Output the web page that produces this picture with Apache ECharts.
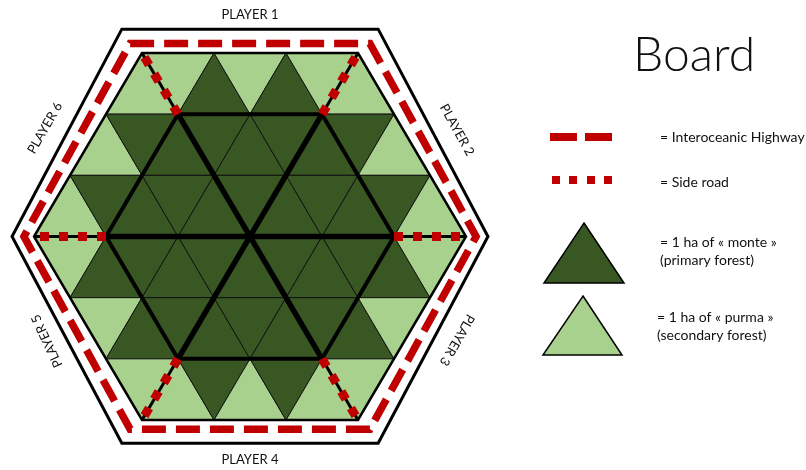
<!DOCTYPE html>
<html><head><meta charset="utf-8">
<script src="https://cdn.jsdelivr.net/npm/echarts@6/dist/echarts.min.js"></script>
<style>html,body{margin:0;padding:0;background:#fff}#c{width:806px;height:470px}</style>
</head><body><div id="c"></div>
<script>
// ---------- data ----------
// Forest cover of each triangle, row by row (top to bottom), left to right. P = purma, M = monte
const rowCover = [
  ['P','P','M','P','M','P','P'],
  ['P','M','M','M','M','M','M','M','P'],
  ['P','M','M','M','M','M','M','M','M','M','P'],
  ['P','M','M','M','M','M','M','M','M','M','P'],
  ['P','M','M','M','M','M','M','M','P'],
  ['P','P','M','P','M','P','P']
];
// Lattice nodes: [half-sides from the centre column, row line counted from the top]
const boardCorners = [[-3,0],[3,0],[6,3],[3,6],[-3,6],[-6,3]];
const starEdges = [[[-2,1],[-4,3],[-2,5]], [[2,1],[4,3],[2,5]], [[-2,1],[2,1]], [[-2,5],[2,5]]];
const starDiagonals = [[[-4,3],[4,3]], [[-2,1],[2,5]], [[2,1],[-2,5]]];
const sideRoads = [[[-2,1],[-3,0]], [[2,1],[3,0]], [[-4,3],[-6,3]], [[4,3],[6,3]], [[-2,5],[-3,6]], [[2,5],[3,6]]];
const highwayRing = [[-3.33,-0.155],[3.33,-0.155],[6.28,3],[3.33,6.15],[-3.33,6.15],[-6.28,3]];
const frameRing = [[-3.56,-0.39],[3.56,-0.39],[6.61,3],[3.56,6.38],[-3.56,6.38],[-6.61,3]];
const playerNames = ['PLAYER 1','PLAYER 2','PLAYER 3','PLAYER 4','PLAYER 5','PLAYER 6'];
const titleText = 'Board';
const legendTexts = ['= Interoceanic Highway', '= Side road',
  '= 1 ha of « monte »\n(primary forest)', '= 1 ha of « purma »\n(secondary forest)'];

// ---------- styles ----------
const DARK = '#385723', LIGHT = '#A9D18E', RED = '#C00000', INK = '#111';
const FONT = 'Lato, "Open Sans", sans-serif';

function triNodes(r, t) {
  const m = Math.floor(t / 2);
  if (r < 3) {
    const a = -(3 + r) + 2 * m;
    return t % 2 === 0 ? [[a, r], [a - 1, r + 1], [a + 1, r + 1]] : [[a, r], [a + 2, r], [a + 1, r + 1]];
  }
  const a = -(9 - r) + 2 * m;
  return t % 2 === 0 ? [[a, r], [a + 2, r], [a + 1, r + 1]] : [[a + 2, r], [a + 1, r + 1], [a + 3, r + 1]];
}
const cells = [];
rowCover.forEach((row, r) => row.forEach((c, t) => cells.push([r, t, c === 'M' ? 1 : 0])));

const chart = echarts.init(document.getElementById('c'), null, {renderer: 'canvas'});
const rowH = 367 / 6;
const option = {
  animation: false,
  grid: {left: 250 - 6.9 * 36, top: 53 - 0.6 * rowH, width: 13.8 * 36, height: 7.2 * rowH},
  xAxis: {type: 'value', min: -6.9, max: 6.9, show: false},
  yAxis: {type: 'value', min: -0.6, max: 6.6, inverse: true, show: false},
  series: [
    {
      type: 'custom', silent: true, z: 2,
      data: cells,
      encode: {x: -1, y: -1},
      renderItem: (params, api) => {
        const pts = triNodes(api.value(0), api.value(1)).map(p => api.coord(p));
        return {type: 'polygon', shape: {points: pts},
          style: {fill: api.value(2) ? DARK : LIGHT, stroke: INK, lineWidth: 1}};
      }
    },
    {
      type: 'custom', silent: true, z: 3,
      data: [[0, 0]],
      encode: {x: -1, y: -1},
      renderItem: (params, api) => {
        const px = arr => arr.map(p => api.coord(p));
        const ch = [];
        ch.push({type: 'polygon', shape: {points: px(boardCorners)}, style: {fill: 'none', stroke: '#000', lineWidth: 2.5}});
        starEdges.forEach(s => ch.push({type: 'polyline', shape: {points: px(s)},
          style: {fill: 'none', stroke: '#000', lineWidth: 4, lineJoin: 'round', lineCap: 'round'}}));
        starDiagonals.forEach(s => ch.push({type: 'polyline', shape: {points: px(s)},
          style: {fill: 'none', stroke: '#000', lineWidth: 5.5, lineCap: 'round'}}));
        sideRoads.forEach(s => {
          ch.push({type: 'polyline', shape: {points: px(s)}, style: {fill: 'none', stroke: '#000', lineWidth: 3}});
          ch.push({type: 'polyline', shape: {points: px(s)}, style: {fill: 'none', stroke: RED, lineWidth: 9, lineDash: [9, 10]}});
        });
        ch.push({type: 'polygon', shape: {points: px(highwayRing)}, style: {fill: 'none', stroke: RED, lineWidth: 7.5, lineDash: [24, 10]}});
        ch.push({type: 'polygon', shape: {points: px(frameRing)}, style: {fill: 'none', stroke: '#000', lineWidth: 3, lineJoin: 'miter'}});
        return {type: 'group', children: ch};
      }
    }
  ],
  graphic: []
};

const deg = Math.PI / 180;
const playerPlaces = [
  {x: 250, y: 14.5, rot: 0}, {x: 457, y: 130, rot: -61}, {x: 457, y: 340, rot: -120},
  {x: 250, y: 460, rot: 0}, {x: 47, y: 341, rot: 115}, {x: 45, y: 128, rot: 60}
];
playerNames.forEach((n, i) => option.graphic.push({
  type: 'text', x: playerPlaces[i].x, y: playerPlaces[i].y, rotation: playerPlaces[i].rot * deg, silent: true,
  style: {text: n, font: '13px ' + FONT, fill: INK, align: 'center', verticalAlign: 'middle'}
}));
option.graphic.push({type: 'text', x: 633, y: 56, silent: true,
  style: {text: titleText, font: '300 48px ' + FONT, fill: INK, align: 'left', verticalAlign: 'middle'}});
// legend swatches
option.graphic.push({type: 'rect', shape: {x: 550, y: 133, width: 27, height: 8}, style: {fill: RED}});
option.graphic.push({type: 'rect', shape: {x: 585, y: 133, width: 27, height: 8}, style: {fill: RED}});
[552, 569, 587, 604].forEach(x => option.graphic.push({type: 'rect', shape: {x: x, y: 176, width: 8, height: 8}, style: {fill: RED}}));
option.graphic.push({type: 'polygon', shape: {points: [[584, 223], [624, 283], [544, 283]]}, style: {fill: DARK, stroke: '#000', lineWidth: 1.5}});
option.graphic.push({type: 'polygon', shape: {points: [[583, 296], [622, 355], [543, 355]]}, style: {fill: LIGHT, stroke: '#000', lineWidth: 1.5}});
const legendPlaces = [{x: 660, y: 137}, {x: 660, y: 182}, {x: 660, y: 251}, {x: 657, y: 326}];
legendTexts.forEach((t, i) => option.graphic.push({
  type: 'text', x: legendPlaces[i].x, y: legendPlaces[i].y, silent: true,
  style: {text: t, font: '14px ' + FONT, lineHeight: 18, fill: INK, align: 'left', verticalAlign: 'middle'}
}));
chart.setOption(option);
</script></body></html>
